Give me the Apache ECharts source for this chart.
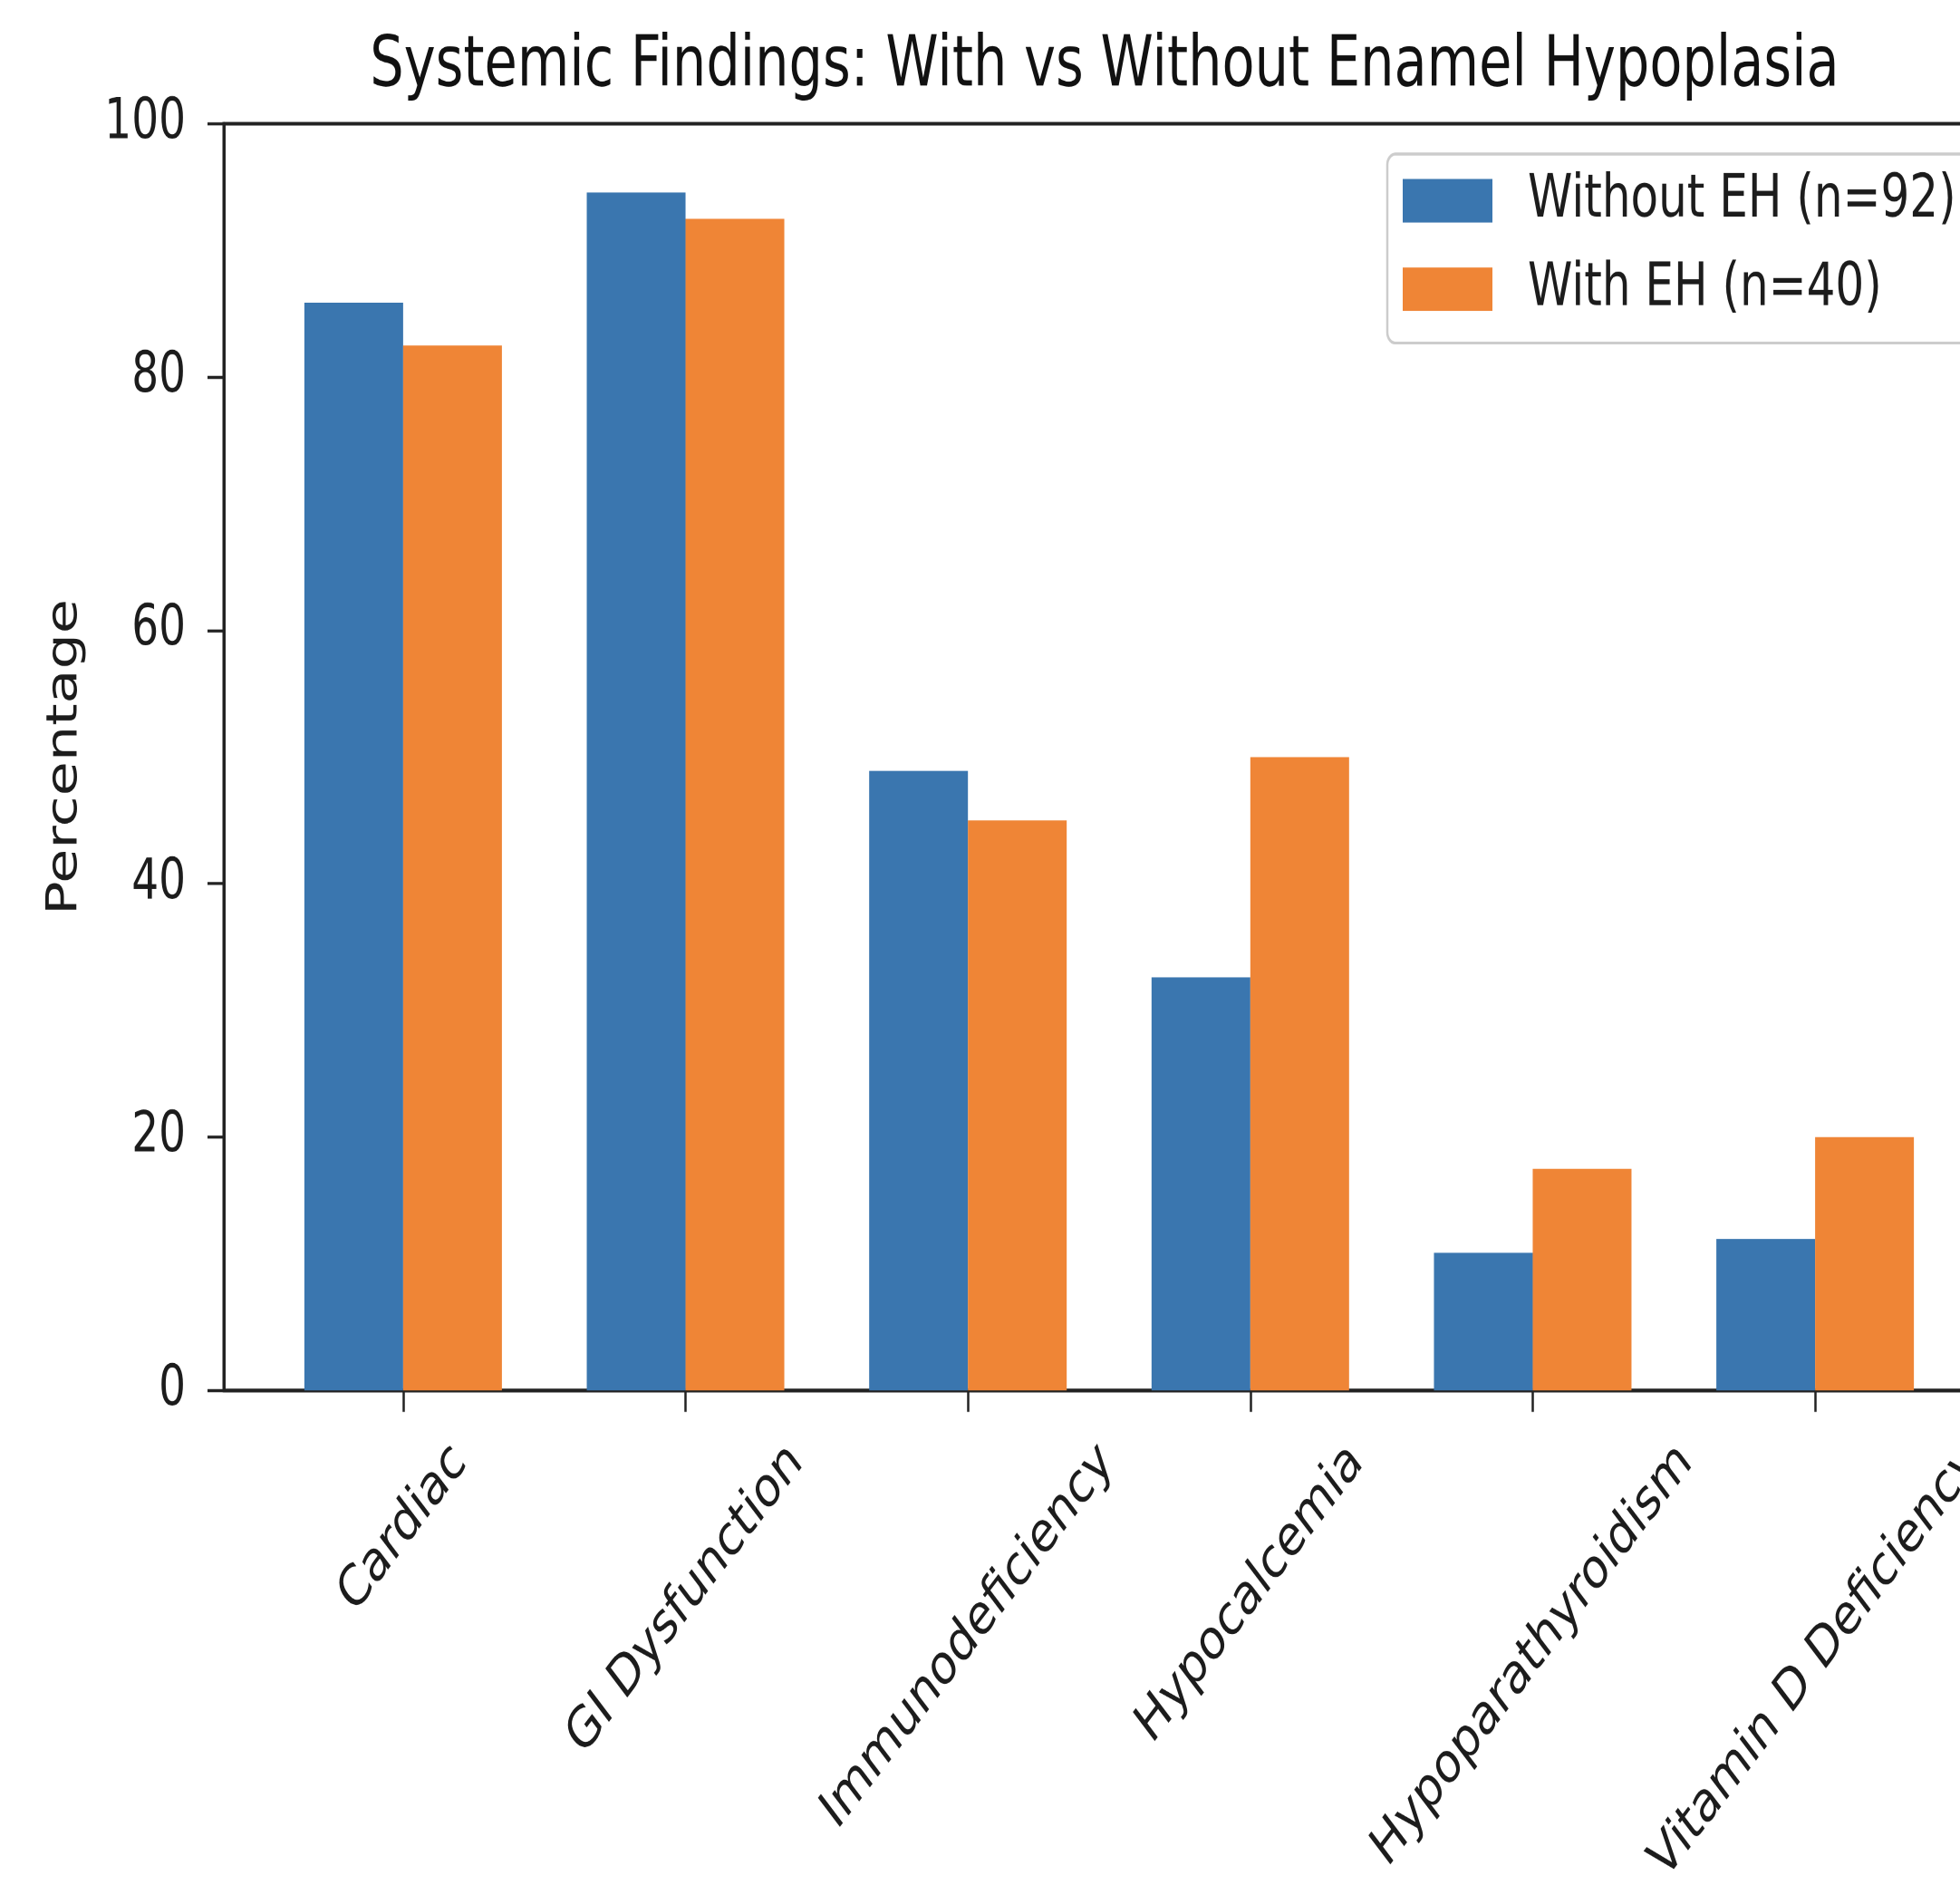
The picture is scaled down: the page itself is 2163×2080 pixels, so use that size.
<!DOCTYPE html>
<html>
<head>
<meta charset="utf-8">
<script src="https://cdn.jsdelivr.net/npm/echarts@6/dist/echarts.min.js"></script>
<style>
html, body { margin: 0; padding: 0; background: #ffffff; overflow: hidden; width: 2163px; height: 2080px; }
#c { width: 2300px; height: 1576px; transform: scaleY(1.32); transform-origin: 0 0; }
</style>
</head>
<body>
<div id="c"></div>
<script>
// ---- data ----
const categories = ['Cardiac', 'GI Dysfunction', 'Immunodeficiency', 'Hypocalcemia', 'Hypoparathyroidism', 'Vitamin D Deficiency'];
const withoutEH = [85.87, 94.57, 48.91, 32.61, 10.87, 11.96];
const withEH = [82.5, 92.5, 45.0, 50.0, 17.5, 20.0];
const seriesNames = ['Without EH (n=92)', 'With EH (n=40)'];
const titleText = 'Systemic Findings: With vs Without Enamel Hypoplasia';
const yAxisName = 'Percentage';

// ---- style ----
const FONT = '"DejaVu Sans", "Noto Sans", sans-serif';
const TXT = '#1c1c1c';
const AX = '#222222';
const LABEL_SIZE = 47;

const catIndex = categories.map((_, i) => i);

// matplotlib-like "ha=center" for 45-degree labels: pad each label by half its width
const mctx = document.createElement('canvas').getContext('2d');
mctx.font = LABEL_SIZE + 'px "DejaVu Sans"';
const rich = {};
categories.forEach((c, i) => {
  const p = mctx.measureText(c).width / 2;
  rich['l' + i] = { fontSize: LABEL_SIZE, fontFamily: FONT, color: TXT, padding: [p, p, 0, 0] };
});

const chart = echarts.init(document.getElementById('c'), null, { renderer: 'canvas', devicePixelRatio: 2 });
chart.setOption({
  animation: false,
  backgroundColor: '#ffffff',
  title: {
    text: titleText,
    left: 1214, top: 21.5, textAlign: 'center',
    textStyle: { fontSize: 59, fontWeight: 'normal', fontFamily: FONT, color: '#111111' }
  },
  legend: {
    orient: 'vertical', left: 1531, top: 128.8,
    icon: 'rect', itemWidth: 99, itemHeight: 36.4, itemGap: 24,
    padding: [14, 60, 20, 17],
    backgroundColor: '#ffffff', borderColor: '#cccccc', borderWidth: 2.5, borderRadius: 9,
    data: seriesNames,
    formatter: n => '{t|' + n + '}',
    textStyle: { rich: { t: { fontSize: 50, fontFamily: FONT, color: TXT, padding: [0, 0, 0, 34] } } }
  },
  grid: {
    left: 247, top: 103.4, width: 1954, height: 1058.9,
    show: true, borderColor: AX, borderWidth: 3, backgroundColor: 'transparent',
    outerBoundsMode: 'none'
  },
  xAxis: {
    type: 'value', min: -0.635, max: 5.635,
    axisLine: { show: true, onZero: false, lineStyle: { color: AX, width: 3 } },
    axisTick: { show: true, customValues: catIndex, length: 18, lineStyle: { color: AX, width: 2.5 } },
    axisLabel: {
      show: true, customValues: catIndex, rotate: 45, align: 'center', verticalAlign: 'middle', margin: 53,
      formatter: v => { const i = Math.round(v); return '{l' + i + '|' + categories[i] + '}'; },
      rich: rich
    },
    splitLine: { show: false }
  },
  yAxis: {
    type: 'value', min: 0, max: 100, interval: 20,
    name: yAxisName, nameLocation: 'middle', nameGap: 151,
    nameTextStyle: { fontSize: 47, fontFamily: FONT, color: TXT },
    axisLine: { show: true, onZero: false, lineStyle: { color: AX, width: 3 } },
    axisTick: { show: true, length: 18, lineStyle: { color: AX, width: 2.5 } },
    axisLabel: { fontSize: 47, fontFamily: FONT, color: TXT, margin: 42 },
    splitLine: { show: false }
  },
  series: [
    { name: seriesNames[0], type: 'bar', data: withoutEH.map((v, i) => [catIndex[i], v]),
      barWidth: 109, barGap: '0%', itemStyle: { color: '#3A76AF' } },
    { name: seriesNames[1], type: 'bar', data: withEH.map((v, i) => [catIndex[i], v]),
      barWidth: 109, barGap: '0%', itemStyle: { color: '#EF8536' } }
  ]
});
</script>
</body>
</html>
